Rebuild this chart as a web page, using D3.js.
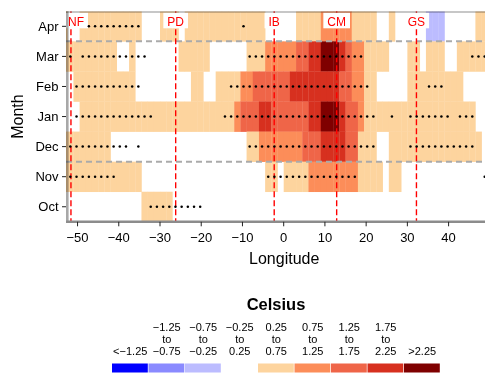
<!DOCTYPE html>
<html>
<head>
<meta charset="utf-8">
<script src="https://cdn.jsdelivr.net/npm/d3@7"></script>
<style>
body { margin: 0; background: #fff; }
svg { font-family: "Liberation Sans", Arial, Helvetica, sans-serif; }
</style>
</head>
<body>
<div id="chart"></div>
<script>
// months, top to bottom
var months = ["Apr", "Mar", "Feb", "Jan", "Dec", "Nov", "Oct"];

// one char per 1.5 deg cell starting at -54E (spaces only for reading)
// 0 = -0.25..0.25, 1..5 warm bins, c/b/a cold bins
var binApr = "1 00 11111 11111 000 111 0 11111 11111 111 00000 1111 22222 1111 00 1 00000 ccc 00000 11";
var binMar = "1 11111 111 00 1 00000 00 11111 00000 0 111 22222 33 44 555 4 3 22 1111 000 11 0 111 00 11111";
var binFeb = "0 0 11111 11111 00000 0000 11 00 1111 22 33333 3 44444 444 33 22 11 00000 11111 1111 0000";
var binJan = "0 00 11111 11111 11111 11111 11111 2 333 44 33333 3 44 555 4 33 2 11111 11111 11111 111 00";
var binDec = "1 11111 11 00000 00000 00000 00000 00 11 22222 22 333 4444 33 111 00 11111 11111 11111 0";
var binNov = "1 11111 11111 11 00000 00000 00000 00000 11 0 1111 22222 222 1111 0 11 00000 00000 0000";
var binOct = "0 00000 00000 00 11111 00000 00000 00000 00000 00000 00000 00000 00000 00000 00000 0";

// significant cells, as [first, last] cell index ranges
var dotsApr = [[4, 12], [29, 29]];
var dotsMar = [[1, 1], [3, 13], [30, 48], [66, 68]];
var dotsFeb = [[2, 12], [27, 49], [59, 61]];
var dotsJan = [[2, 14], [26, 50], [53, 53], [56, 62], [64, 66]];
var dotsDec = [[1, 10], [12, 12], [30, 50], [56, 66]];
var dotsNov = [[1, 8], [33, 47], [68, 68]];
var dotsOct = [[14, 22]];

var binRows = [binApr, binMar, binFeb, binJan, binDec, binNov, binOct];
var dotRows = [dotsApr, dotsMar, dotsFeb, dotsJan, dotsDec, dotsNov, dotsOct];

var binKeys = ["a", "b", "c", "0", "1", "2", "3", "4", "5"];
var binColors = ["#0000ff", "#8a8aff", "#bcbcff", "#ffffff", "#fdd49e", "#fc8d59", "#ef6548", "#d7301f", "#7f0000"];
var binLabels = [
    ["", "", "<\u22121.25"],
    ["\u22121.25", "to", "\u22120.75"],
    ["\u22120.75", "to", "\u22120.25"],
    ["\u22120.25", "to", "0.25"],
    ["0.25", "to", "0.75"],
    ["0.75", "to", "1.25"],
    ["1.25", "to", "1.75"],
    ["1.75", "to", "2.25"],
    ["", "", ">2.25"]
];

var sites = ["NF", "PD", "IB", "CM", "GS"];
var siteLon = [-51.6, -26.2, -2.3, 12.85, 32.2];
var lonTicks = [-50, -40, -30, -20, -10, 0, 10, 20, 30, 40];

var cellStart = -54, cellSize = 1.5;

var width = 485, height = 374;
var plotLeft = 66, plotTop = 11.3, plotBottom = 221.8;

var svg = d3.select("#chart").append("svg")
    .attr("width", width)
    .attr("height", height);

var x = d3.scaleLinear().domain([-50, 40]).range([77.55, 448.6]);
var y = d3.scaleBand().domain(months).range([plotTop, plotBottom]);
var color = d3.scaleOrdinal().domain(binKeys).range(binColors);

svg.append("clipPath").attr("id", "plotclip")
    .append("rect")
    .attr("x", plotLeft).attr("y", plotTop)
    .attr("width", width - plotLeft).attr("height", plotBottom - plotTop);

var cells = [];
binRows.forEach(function(row, r) {
    row.replace(/ /g, "").split("").forEach(function(k, i) {
        cells.push({ month: months[r], i: i, key: k });
    });
});

var dots = [];
dotRows.forEach(function(ranges, r) {
    ranges.forEach(function(rg) {
        for (var i = rg[0]; i <= rg[1]; i++) dots.push({ month: months[r], i: i });
    });
});

var plot = svg.append("g").attr("clip-path", "url(#plotclip)");

plot.selectAll("rect.cell")
    .data(cells.filter(function(d) { return d.key != "0"; }))
    .enter().append("rect")
    .attr("class", "cell")
    .attr("x", function(d) { return x(cellStart + d.i * cellSize); })
    .attr("y", function(d) { return y(d.month); })
    .attr("width", function(d) { return x(cellStart + (d.i + 1) * cellSize) - x(cellStart + d.i * cellSize) + 0.3; })
    .attr("height", y.bandwidth() + 0.3)
    .attr("fill", function(d) { return color(d.key); });

// season separators
plot.selectAll("line.sep")
    .data(["Apr", "Dec"])
    .enter().append("line")
    .attr("x1", plotLeft).attr("x2", width)
    .attr("y1", function(d) { return y(d) + y.bandwidth(); })
    .attr("y2", function(d) { return y(d) + y.bandwidth(); })
    .attr("stroke", "#aaaaaa")
    .attr("stroke-width", 2)
    .attr("stroke-dasharray", "6,4");

// site lines
plot.selectAll("line.site")
    .data(siteLon)
    .enter().append("line")
    .attr("x1", function(d) { return x(d); })
    .attr("x2", function(d) { return x(d); })
    .attr("y1", plotTop).attr("y2", plotBottom)
    .attr("stroke", "#ff0000")
    .attr("stroke-width", 1.4)
    .attr("stroke-dasharray", "6,3");

var siteG = plot.selectAll("g.site")
    .data(sites)
    .enter().append("g");

siteG.each(function(name, i) {
    var g = d3.select(this);
    var t = g.append("text")
        .attr("y", 25.7)
        .attr("text-anchor", "middle")
        .style("font-size", "12px")
        .attr("fill", "#ff0000")
        .text(name);
    var w = t.node().getComputedTextLength();
    var cx = Math.max(x(siteLon[i]), plotLeft + 2 + w / 2);
    t.attr("x", cx);
    g.insert("rect", "text")
        .attr("x", cx - w / 2 - 4)
        .attr("y", 12.7)
        .attr("width", w + 8)
        .attr("height", 15.6)
        .attr("fill", "#ffffff");
});

plot.selectAll("circle.dot")
    .data(dots)
    .enter().append("circle")
    .attr("cx", function(d) { return x(cellStart + (d.i + 0.5) * cellSize); })
    .attr("cy", function(d) { return y(d.month) + y.bandwidth() / 2; })
    .attr("r", 1.25)
    .attr("fill", "#000");

// frame
svg.append("line")
    .attr("x1", plotLeft).attr("x2", width)
    .attr("y1", plotTop + 0.6).attr("y2", plotTop + 0.6)
    .attr("stroke", "#b4b4b4").attr("stroke-width", 1.5)
    .style("mix-blend-mode", "multiply");
svg.append("line")
    .attr("x1", 67.3).attr("x2", 67.3)
    .attr("y1", plotTop).attr("y2", plotBottom + 1.2)
    .attr("stroke", "#a8a8a8").attr("stroke-width", 2.6)
    .style("mix-blend-mode", "multiply");
svg.append("line")
    .attr("x1", 66).attr("x2", width)
    .attr("y1", plotBottom).attr("y2", plotBottom)
    .attr("stroke", "#8c8c8c").attr("stroke-width", 2.4);

// x axis
svg.selectAll("line.xtick")
    .data(lonTicks)
    .enter().append("line")
    .attr("x1", function(d) { return x(d); })
    .attr("x2", function(d) { return x(d); })
    .attr("y1", plotBottom).attr("y2", plotBottom + 4.5)
    .attr("stroke", "#222").attr("stroke-width", 1);

svg.selectAll("text.xtick")
    .data(lonTicks)
    .enter().append("text")
    .attr("x", function(d) { return x(d); })
    .attr("y", 242)
    .attr("text-anchor", "middle")
    .style("font-size", "13px")
    .text(function(d) { return d < 0 ? "\u2212" + Math.abs(d) : d; });

svg.append("text")
    .attr("x", x(0) + 0.5).attr("y", 264)
    .attr("text-anchor", "middle")
    .style("font-size", "16px")
    .text("Longitude");

// y axis
svg.selectAll("line.ytick")
    .data(months)
    .enter().append("line")
    .attr("x1", 62).attr("x2", 66)
    .attr("y1", function(d) { return y(d) + y.bandwidth() / 2; })
    .attr("y2", function(d) { return y(d) + y.bandwidth() / 2; })
    .attr("stroke", "#222").attr("stroke-width", 1);

svg.selectAll("text.ytick")
    .data(months)
    .enter().append("text")
    .attr("x", 58.5)
    .attr("y", function(d) { return y(d) + y.bandwidth() / 2 + 4.6; })
    .attr("text-anchor", "end")
    .style("font-size", "13px")
    .text(function(d) { return d; });

svg.append("text")
    .attr("transform", "translate(22.5," + ((plotTop + plotBottom) / 2) + ") rotate(-90)")
    .attr("text-anchor", "middle")
    .style("font-size", "16px")
    .text("Month");

// legend
var legX = d3.scaleBand().domain(binKeys).range([112, 440.5]);

svg.append("text")
    .attr("x", 276).attr("y", 309.5)
    .attr("text-anchor", "middle")
    .style("font-size", "16.5px")
    .style("font-weight", "bold")
    .text("Celsius");

svg.selectAll("rect.leg")
    .data(binKeys)
    .enter().append("rect")
    .attr("x", function(d) { return legX(d); })
    .attr("y", 363.5)
    .attr("width", legX.bandwidth() - 0.7)
    .attr("height", 9)
    .attr("fill", function(d) { return color(d); });

var legText = svg.selectAll("text.leg")
    .data(binKeys)
    .enter().append("text")
    .attr("text-anchor", "middle")
    .style("font-size", "11px");

legText.each(function(k, i) {
    var t = d3.select(this);
    binLabels[i].forEach(function(line, j) {
        if (line === "") return;
        t.append("tspan")
            .attr("x", legX(k) + legX.bandwidth() / 2)
            .attr("y", 330.5 + j * 12.3)
            .text(line);
    });
});
</script>
</body>
</html>
